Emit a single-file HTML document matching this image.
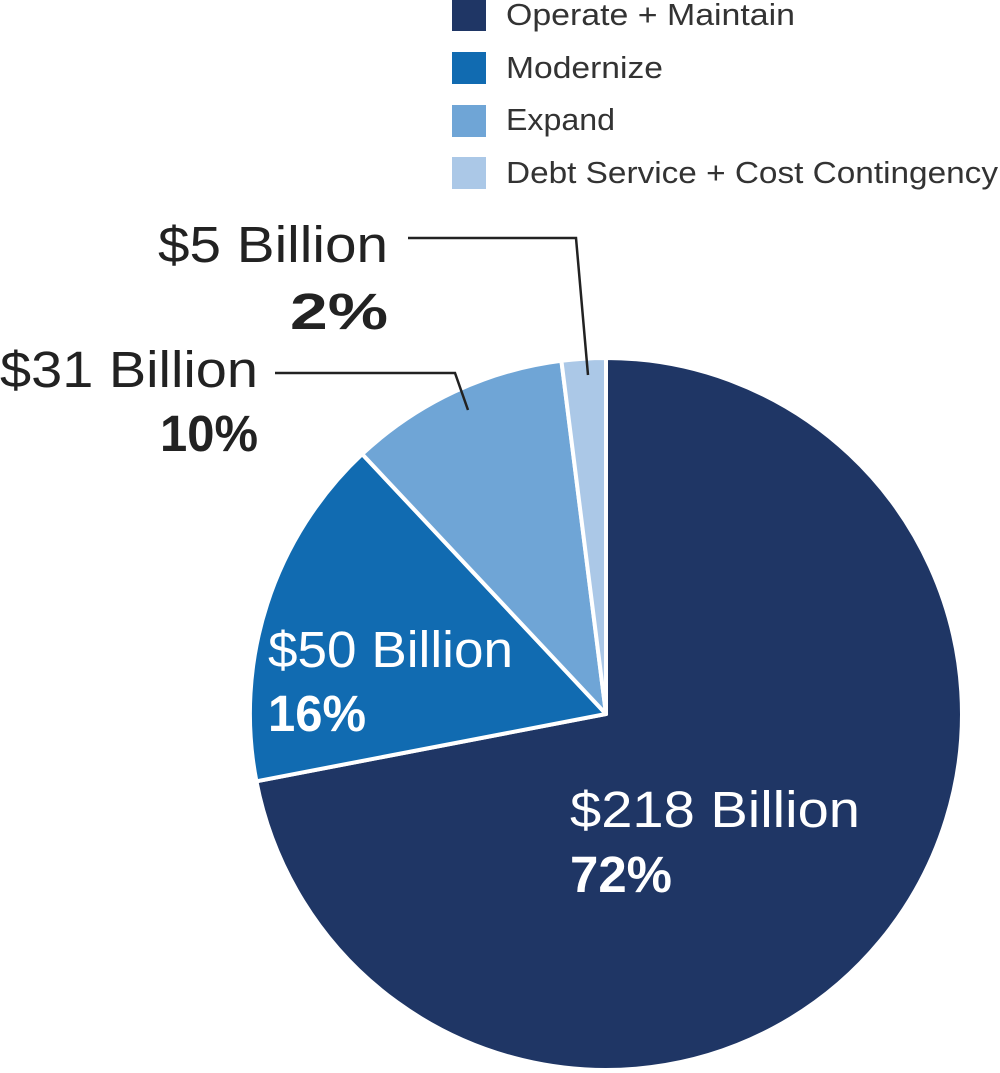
<!DOCTYPE html>
<html><head><meta charset="utf-8"><style>
html,body{margin:0;padding:0;background:#fff;}
svg{display:block;}
text{font-family:"Liberation Sans",sans-serif;}
</style></head><body>
<svg width="1000" height="1073" viewBox="0 0 1000 1073" xmlns="http://www.w3.org/2000/svg">
<g stroke="#fff" stroke-width="4" stroke-linejoin="round">
<path d="M606,714 L606,358 A356,356 0 1 1 256.4,781.3 Z" fill="#1f3665"/>
<path d="M606,714 L256.4,781.3 A356,356 0 0 1 362.2,454.1 Z" fill="#116bb1"/>
<path d="M606,714 L362.2,454.1 A356,356 0 0 1 561.4,360.8 Z" fill="#6fa5d6"/>
<path d="M606,714 L561.4,360.8 A356,356 0 0 1 606,358 Z" fill="#abc8e7"/>
</g>
<g fill="none" stroke="#222" stroke-width="2.5">
<polyline points="408,238 576,238 588,375"/>
<polyline points="275,373 455,373 468,410"/>
</g>
<rect x="452" y="0" width="34" height="31" fill="#1f3665"/>
<rect x="452" y="52" width="34" height="32" fill="#116bb1"/>
<rect x="452" y="105" width="34" height="32" fill="#6fa5d6"/>
<rect x="452" y="157" width="34" height="32" fill="#abc8e7"/>
<g font-size="31" fill="#333">
<text x="506" y="25" textLength="289" lengthAdjust="spacingAndGlyphs">Operate + Maintain</text>
<text x="506" y="78" textLength="157" lengthAdjust="spacingAndGlyphs">Modernize</text>
<text x="506" y="130" textLength="109" lengthAdjust="spacingAndGlyphs">Expand</text>
<text x="506" y="183" textLength="492" lengthAdjust="spacingAndGlyphs">Debt Service + Cost Contingency</text>
</g>
<g font-size="51" fill="#222">
<text x="158" y="262" textLength="230" lengthAdjust="spacingAndGlyphs">$5 Billion</text>
<text x="290" y="329" font-weight="bold" textLength="98" lengthAdjust="spacingAndGlyphs">2%</text>
<text x="0" y="387" textLength="258" lengthAdjust="spacingAndGlyphs">$31 Billion</text>
<text x="160" y="451" font-weight="bold" textLength="98" lengthAdjust="spacingAndGlyphs">10%</text>
</g>
<g font-size="51" fill="#fff">
<text x="268" y="667" textLength="245" lengthAdjust="spacingAndGlyphs">$50 Billion</text>
<text x="268" y="731" font-weight="bold" textLength="98" lengthAdjust="spacingAndGlyphs">16%</text>
<text x="570" y="827" textLength="290" lengthAdjust="spacingAndGlyphs">$218 Billion</text>
<text x="570" y="892" font-weight="bold" textLength="102" lengthAdjust="spacingAndGlyphs">72%</text>
</g>
</svg>
</body></html>
